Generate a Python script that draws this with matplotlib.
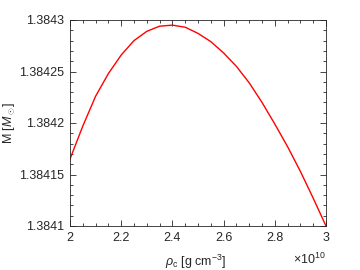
import matplotlib
matplotlib.use("Agg")
import matplotlib.pyplot as plt
from matplotlib.ticker import MultipleLocator

rho_c = [2.0, 2.05, 2.1, 2.15, 2.2, 2.25, 2.3, 2.35, 2.4, 2.45, 2.5,
         2.55, 2.6, 2.65, 2.7, 2.75, 2.8, 2.85, 2.9, 2.95, 3.0]
mass = [1.384165, 1.384197, 1.384226, 1.384248, 1.384266, 1.384280, 1.384289,
        1.384294, 1.384295, 1.384293, 1.384287, 1.384279, 1.384268, 1.384255,
        1.384239, 1.384220, 1.384199, 1.384177, 1.384153, 1.384127, 1.384100]
xticks = [2.0, 2.2, 2.4, 2.6, 2.8, 3.0]
xticklabels = ["2", "2.2", "2.4", "2.6", "2.8", "3"]
yticks = [1.3841, 1.38415, 1.3842, 1.38425, 1.3843]
yticklabels = ["1.3841", "1.38415", "1.3842", "1.38425", "1.3843"]

plt.rcParams['font.family'] = ['Liberation Sans', 'DejaVu Sans']
plt.rcParams['mathtext.fontset'] = 'custom'
plt.rcParams['mathtext.rm'] = 'Liberation Sans'
plt.rcParams['mathtext.it'] = 'Liberation Sans:italic'

fs = 9
fig = plt.figure(figsize=(3.6, 2.7), dpi=100)
ax = fig.add_axes([70/360, 44/270, 256/360, 206/270])
ax.plot(rho_c, mass, color='#ff0000', lw=1.0)
ax.set_xlim(2, 3)
ax.set_ylim(1.3841, 1.3843)
ax.set_xticks(xticks)
ax.set_xticklabels(xticklabels)
ax.set_yticks(yticks)
ax.set_yticklabels(yticklabels)
ax.xaxis.set_minor_locator(MultipleLocator(0.05))
ax.yaxis.set_minor_locator(MultipleLocator(0.00001))
edge = '#262626'
for s in ax.spines.values():
    s.set_color(edge)
    s.set_linewidth(0.6)
ax.tick_params(which='both', direction='in', top=True, right=True,
               colors=edge, labelsize=fs, width=0.6)
ax.tick_params(which='major', length=4, pad=4)
ax.tick_params(which='minor', length=2)
fig.text(196/360, 1 - 262/270, r'$\rho_{\rm c}$ [g cm$^{-3}$]', fontsize=fs,
         color=edge, ha='center', va='center')
fig.text(9/360, 1 - 123/270, r'M [$M_\odot$]', fontsize=fs, color=edge,
         rotation=90, ha='center', va='center')
fig.text(326/360, 1 - 259/270, r'$\times$10$^{10}$', fontsize=fs, color=edge,
         ha='right', va='center')
fig.savefig('out.png', dpi=100)
